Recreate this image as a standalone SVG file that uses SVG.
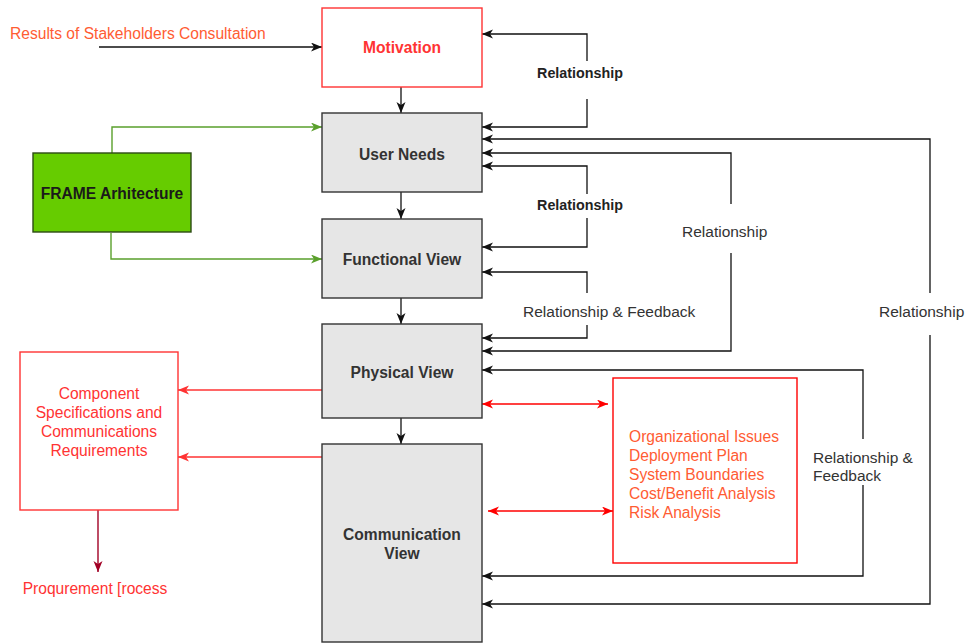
<svg xmlns="http://www.w3.org/2000/svg" width="970" height="643" viewBox="0 0 970 643">
<defs>
<marker id="ab" markerUnits="userSpaceOnUse" markerWidth="12" markerHeight="10" refX="11" refY="4.5" orient="auto-start-reverse"><path d="M0,0 L11,4.5 L0,9 L3,4.5 Z" fill="#111"/></marker>
<marker id="ar" markerUnits="userSpaceOnUse" markerWidth="12" markerHeight="10" refX="11" refY="4.5" orient="auto-start-reverse"><path d="M0,0 L11,4.5 L0,9 L3,4.5 Z" fill="#ff0000"/></marker>
<marker id="alr" markerUnits="userSpaceOnUse" markerWidth="12" markerHeight="10" refX="11" refY="4.5" orient="auto-start-reverse"><path d="M0,0 L11,4.5 L0,9 L3,4.5 Z" fill="#ff3333"/></marker>
<marker id="adr" markerUnits="userSpaceOnUse" markerWidth="12" markerHeight="10" refX="11" refY="4.5" orient="auto-start-reverse"><path d="M0,0 L11,4.5 L0,9 L3,4.5 Z" fill="#a20025"/></marker>
<marker id="ag" markerUnits="userSpaceOnUse" markerWidth="12" markerHeight="10" refX="11" refY="4.5" orient="auto-start-reverse"><path d="M0,0 L11,4.5 L0,9 L3,4.5 Z" fill="#5aa02c"/></marker>
</defs>
<style>
text{font-family:"Liberation Sans",Arial,sans-serif;}
.box{fill:#e6e6e6;stroke:#333;stroke-width:1.4;}
.nl{font-size:15.6px;font-weight:bold;fill:#333;text-anchor:middle;}
.cb{fill:none;stroke:#111;stroke-width:1.3;marker-end:url(#ab);}
.cbb{fill:none;stroke:#111;stroke-width:1.3;marker-start:url(#ab);marker-end:url(#ab);}
.lb{font-size:14.3px;font-weight:bold;fill:#222;text-anchor:middle;}
.lr{font-size:15.5px;fill:#333;}
.bg{fill:#fff;stroke:none;}
.red{fill:#ff3333;font-size:15.6px;}
.org{fill:#ff5c33;font-size:15.6px;}
</style>

<g id="connectors">
<path class="cb" d="M99,47 H322"/>
<path class="cb" d="M401,87 V113"/>
<path class="cb" d="M401,192 V219"/>
<path class="cb" d="M401,298 V324"/>
<path class="cb" d="M401,418 V444"/>

<path class="cbb" d="M482,34 H587 V127 H482"/>
<path class="cbb" d="M482,166 H587 V247 H482"/>
<path class="cbb" d="M482,272 H587 V338 H482"/>
<path class="cbb" d="M482,153 H731 V351 H482"/>
<path class="cbb" d="M482,139 H930 V604 H482"/>
<path class="cbb" d="M482,370 H863 V576 H482"/>

<path d="M482,404 H608" fill="none" stroke="#ff0000" stroke-width="1.5" marker-start="url(#ar)" marker-end="url(#ar)"/>
<path d="M488,511 H613" fill="none" stroke="#ff0000" stroke-width="1.5" marker-start="url(#ar)" marker-end="url(#ar)"/>
<path d="M322,390 H178" fill="none" stroke="#ff3333" stroke-width="1.4" marker-end="url(#alr)"/>
<path d="M322,457 H178" fill="none" stroke="#ff3333" stroke-width="1.4" marker-end="url(#alr)"/>
<path d="M98,510 V572" fill="none" stroke="#a20025" stroke-width="1.4" marker-end="url(#adr)"/>
<path d="M112,153 V127 H322" fill="none" stroke="#5aa02c" stroke-width="1.4" marker-end="url(#ag)"/>
<path d="M111,233 V259 H322" fill="none" stroke="#5aa02c" stroke-width="1.4" marker-end="url(#ag)"/>

<rect class="bg" x="533" y="61" width="94" height="38"/>
<text class="lb" x="580" y="78">Relationship</text>
<rect class="bg" x="533" y="194" width="94" height="24"/>
<text class="lb" x="580" y="210">Relationship</text>
<rect class="bg" x="520" y="293" width="182" height="32"/>
<text class="lr" x="523" y="316.5">Relationship &amp; Feedback</text>
<rect class="bg" x="679" y="204" width="92" height="49"/>
<text class="lr" x="682" y="236.5">Relationship</text>
<rect class="bg" x="876" y="293" width="93" height="42"/>
<text class="lr" x="879" y="316.5">Relationship</text>
<rect class="bg" x="810" y="439" width="110" height="46"/>
<text class="lr" x="813" y="462.5">Relationship &amp;</text>
<text class="lr" x="813" y="480.5">Feedback</text>

<text class="org" x="10" y="38.5">Results of Stakeholders Consultation</text>
<text class="red" x="95" y="594" text-anchor="middle">Proqurement [rocess</text>
</g>

<g id="motivation">
<rect x="322" y="8" width="160" height="79" fill="#fff" stroke="#ff3333" stroke-width="1.4"/>
<text class="nl" x="402" y="52.5" style="fill:#ff3333">Motivation</text>
</g>
<g id="user-needs">
<rect class="box" x="322" y="113" width="160" height="79"/>
<text class="nl" x="402" y="159.5">User Needs</text>
</g>
<g id="functional-view">
<rect class="box" x="322" y="219" width="160" height="79"/>
<text class="nl" x="402" y="264.5">Functional View</text>
</g>
<g id="physical-view">
<rect class="box" x="322" y="324" width="160" height="94"/>
<text class="nl" x="402" y="377.5">Physical View</text>
</g>
<g id="communication-view">
<rect class="box" x="322" y="444" width="160" height="198"/>
<text class="nl" x="402" y="539.5">Communication</text>
<text class="nl" x="402" y="558.5">View</text>
</g>
<g id="frame">
<rect x="33" y="153" width="158" height="79" fill="#66cc00" stroke="#2d4a14" stroke-width="1.4"/>
<text x="112" y="198.5" text-anchor="middle" font-size="15.6" font-weight="bold" fill="#1a1a1a">FRAME Arhitecture</text>
</g>
<g id="component">
<rect x="20" y="352" width="158" height="158" fill="#fff" stroke="#ff3333" stroke-width="1.4"/>
<text class="red" text-anchor="middle" x="99" y="398.5">Component</text>
<text class="red" text-anchor="middle" x="99" y="417.5">Specifications and</text>
<text class="red" text-anchor="middle" x="99" y="436.5">Communications</text>
<text class="red" text-anchor="middle" x="99" y="455.5">Requirements</text>
</g>
<g id="issues">
<rect x="613" y="378" width="184" height="185" fill="#fff" stroke="#ff0000" stroke-width="1.4"/>
<text class="org" x="629" y="442">Organizational Issues</text>
<text class="org" x="629" y="461">Deployment Plan</text>
<text class="org" x="629" y="480">System Boundaries</text>
<text class="org" x="629" y="499">Cost/Benefit Analysis</text>
<text class="org" x="629" y="518">Risk Analysis</text>
</g>
</svg>
